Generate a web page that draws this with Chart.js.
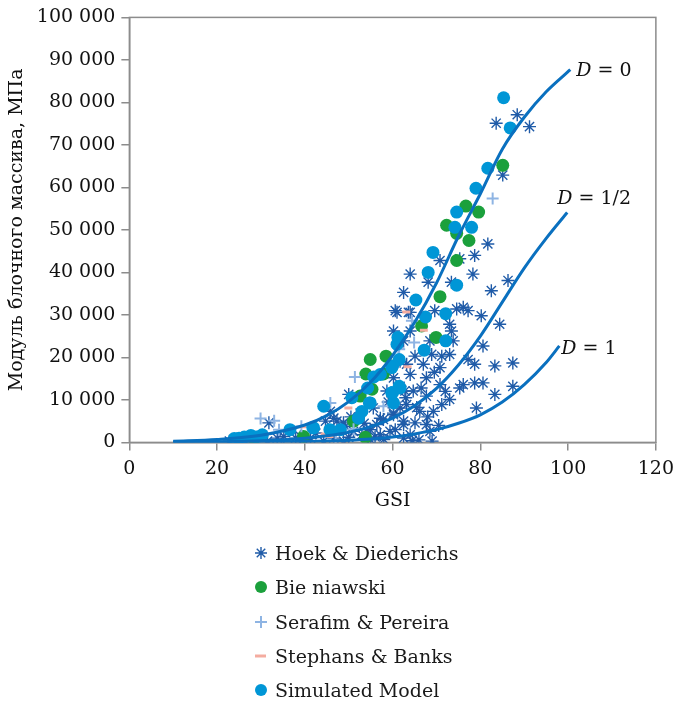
<!DOCTYPE html>
<html>
<head>
<meta charset="utf-8">
<script src="https://cdn.jsdelivr.net/npm/chart.js@4.4.1/dist/chart.umd.min.js"></script>
<style>
  body { margin: 0; background: #fff; }
  #wrap { position: relative; width: 681px; height: 704px; }
  #legend { position: absolute; left: 252px; top: 536px; font-family: "DejaVu Serif", serif; font-size: 19px; color: #1a1a1a; }
  #legend div { height: 34.3px; display: flex; align-items: center; }
  #legend canvas { margin-right: 5px; }
</style>
</head>
<body>
<div id="wrap">
  <canvas id="chart" width="681" height="704"></canvas>
  <div id="legend"></div>
</div>
<script>
// точки (GSI, модуль, МПа)
const hoekPoints = [
  [83.6, 75100], [88.4, 77100], [91.2, 74300], [85.1, 62900], [81.7, 46700],
  [78.7, 44000], [75.3, 43200], [70.8, 42800], [78.3, 39600], [64.0, 39600],
  [68.1, 37700], [73.4, 37700], [62.5, 35300], [82.5, 35700], [86.3, 38100],
  [60.6, 31000], [64.0, 30600], [69.6, 31000], [74.6, 31400], [76.1, 31800],
  [77.2, 31000], [80.2, 29800], [73.0, 27800], [84.4, 27800], [60.2, 26200],
  [64.0, 26200], [73.4, 26200], [62.5, 23900], [68.5, 23900], [73.8, 23900],
  [80.6, 22700], [65.1, 20300], [68.9, 20700], [71.2, 20300], [73.0, 20700],
  [77.2, 19500], [63.2, 18400], [67.0, 18400], [78.7, 18400], [83.3, 18000],
  [87.4, 18700], [70.8, 17600], [64.0, 16000], [67.7, 15200], [61.7, 13200],
  [70.8, 13600], [76.1, 13600], [78.7, 14000], [80.6, 14000], [75.3, 12800],
  [83.3, 11300], [87.4, 13200], [64.7, 12100], [67.7, 10900], [73.0, 10100],
  [71.2, 8900], [63.2, 8900], [79.1, 8100], [66.2, 7300], [69.3, 7300],
  [60.2, 6900], [57.2, 5700], [62.5, 5000], [65.1, 4600], [67.7, 4200],
  [60.6, 3000], [64.0, 1800], [68.5, 2600], [57.2, 1800], [54.9, 3000],
  [69.0, 300], [61.0, 30600], [63.6, 30600], [39.0, 1400], [41.3, 1000],
  [44.3, 300], [46.6, 1000], [48.8, 300], [47.3, 5000], [49.2, 3800],
  [51.1, 2600], [54.1, 3000], [56.4, 4200], [55.6, 8100], [57.9, 5400],
  [60.2, 6500], [61.7, 8100], [62.5, 4200], [52.6, 6900], [59.4, 2600],
  [62.5, 1000], [61.7, 19100], [60.2, 15200], [58.7, 12100], [62.8, 12100],
  [22.8, 300], [25.4, 100], [31.8, 4600], [31.5, 300], [33.7, 1000],
  [35.2, 1400], [37.9, 1000], [44.7, 5000], [46.6, 5700], [45.8, 7300],
  [48.8, 4600], [50.0, 11300], [66.0, 600], [58.0, 700], [56.0, 1300],
  [64.5, 400], [53.0, 1800], [50.5, 6000], [66.5, 12800], [69.5, 16500],
  [42.5, 2200], [50.0, 1200], [53.5, 4500], [55.0, 600], [59.0, 9500],
  [63.0, 10500], [65.5, 8200], [68.0, 6000], [70.5, 4000], [72.0, 12000]
];
const bieniawskiPoints = [
  [85.1, 65200], [76.7, 55600], [79.6, 54200], [72.3, 51100], [74.6, 49200],
  [77.4, 47500], [74.6, 42800], [70.8, 34300], [69.9, 24700], [66.6, 27400],
  [54.9, 19500], [58.5, 20300], [53.9, 16100], [57.9, 16100], [52.6, 10900],
  [53.8, 1200], [55.3, 12500], [51.1, 5000], [39.7, 1400], [28.4, 1000]
];
const serafimPoints = [
  [82.8, 57400], [64.4, 28600], [64.9, 23500], [61.5, 21900], [57.9, 8500],
  [29.9, 5600], [33.0, 5100], [34.1, 3000], [39.2, 3800], [45.8, 9300],
  [51.4, 15400], [51.1, 3100], [47.0, 300], [61.3, 22300]
];
const stephansPoints = [
  [38.5, 3700], [43.6, 2000], [44.7, 1400], [49.0, 8100],
  [62.2, 30700], [66.2, 26400], [62.5, 17800]
];
const simulatedPoints = [
  [85.3, 81100], [86.8, 74000], [81.7, 64500], [79.0, 59800], [74.6, 54200],
  [74.2, 50600], [78.0, 50600], [69.2, 44700], [68.1, 40000], [74.6, 37000],
  [65.3, 33500], [72.1, 30300], [67.5, 29500], [61.2, 24700], [72.1, 23900],
  [67.2, 21700], [61.5, 19500], [60.0, 18000], [55.7, 15400], [54.3, 12800],
  [61.5, 13200], [60.0, 11700], [60.2, 9300], [54.7, 9300], [53.0, 7300],
  [44.3, 8500], [42.0, 3400], [45.7, 3000], [48.1, 3000], [50.7, 10500],
  [54.9, 9300], [52.2, 5700], [57.2, 16000], [59.8, 17600], [61.7, 12800],
  [59.8, 11700], [61.0, 23100], [23.9, 900], [26.2, 1250], [27.7, 1650],
  [30.3, 1800], [36.6, 3000], [41.8, 3500], [25.0, 1000], [29.0, 1300]
];

// кривые Хука–Дидерихса
const curveGsi = [10, 20, 30, 40, 45, 50, 55, 60, 65, 70, 75, 80, 85, 90, 95, 100.5];
const curveD0 = [300, 700, 1700, 4100, 6300, 9600, 14200, 20500, 28200, 37500, 48500, 58500, 69000, 76500, 82500, 87700];
const curveHalfGsi = [10, 20, 30, 40, 45, 50, 55, 60, 65, 70, 75, 80, 85, 90, 95, 99.8];
const curveDHalf = [70, 160, 400, 1000, 1550, 2400, 3700, 5700, 8600, 12700, 18200, 25000, 33000, 41000, 48000, 54100];
const curveOneGsi = [10, 20, 30, 40, 45, 50, 55, 60, 65, 70, 75, 80, 85, 90, 95, 98];
const curveD1 = [15, 35, 90, 210, 330, 530, 820, 1280, 2000, 3000, 4500, 6500, 9500, 13600, 18800, 22700];

const xTicks = [0, 20, 40, 60, 80, 100, 120];

const toXY = arr => arr.map(p => ({ x: p[0], y: p[1] }));
const zip = (xs, ys) => xs.map((x, i) => ({ x, y: ys[i] }));

const LINE = '#0a70bf';
const serif = '"DejaVu Serif", serif';

function curve(label, data, text) {
  return {
    type: 'line', label, data, curveText: text,
    borderColor: LINE, borderWidth: 3, pointRadius: 0,
    cubicInterpolationMode: 'monotone', fill: false, order: 0
  };
}

const datasets = [
  { label: 'Hoek & Diederichs', data: toXY(hoekPoints), pointStyle: 'star', pointRadius: 6.5,
    borderColor: '#1f5ba8', backgroundColor: '#1f5ba8', borderWidth: 1.4, order: 5 },
  { label: 'Bie niawski', data: toXY(bieniawskiPoints), pointStyle: 'circle', pointRadius: 6.5,
    borderColor: '#1ba03c', backgroundColor: '#1ba03c', borderWidth: 0, order: 4 },
  { label: 'Serafim & Pereira', data: toXY(serafimPoints), pointStyle: 'cross', pointRadius: 6,
    borderColor: '#8eb4e3', backgroundColor: '#8eb4e3', borderWidth: 2, order: 3 },
  { label: 'Stephans & Banks', data: toXY(stephansPoints), pointStyle: 'dash', pointRadius: 8,
    borderColor: '#f4aca0', backgroundColor: '#f4aca0', borderWidth: 3, order: 2 },
  { label: 'Simulated Model', data: toXY(simulatedPoints), pointStyle: 'circle', pointRadius: 6.5,
    borderColor: '#0096d6', backgroundColor: '#0096d6', borderWidth: 0, order: 1 },
  curve('D0', zip(curveGsi, curveD0), ['0', 6, 1]),
  curve('D05', zip(curveHalfGsi, curveDHalf), ['1/2', -10, -13]),
  curve('D1', zip(curveOneGsi, curveD1), ['1', 2, 3])
];

// рамка графика
const frame = {
  id: 'frame',
  beforeDatasetsDraw(chart) {
    const { ctx, chartArea: a } = chart;
    ctx.save();
    ctx.strokeStyle = '#8c8c8c';
    ctx.lineWidth = 1.5;
    ctx.strokeRect(a.left, a.top, a.right - a.left, a.bottom - a.top);
    ctx.restore();
  }
};

// подписи кривых D = ...
const curveLabels = {
  id: 'curveLabels',
  afterDatasetsDraw(chart) {
    const ctx = chart.ctx;
    ctx.save();
    ctx.fillStyle = '#111';
    ctx.textBaseline = 'middle';
    chart.data.datasets.forEach((ds, i) => {
      if (!ds.curveText) return;
      const pts = chart.getDatasetMeta(i).data;
      const last = pts[pts.length - 1];
      let x = last.x + ds.curveText[1];
      const y = last.y + ds.curveText[2];
      ctx.font = 'italic 19px ' + serif;
      ctx.fillText('D', x, y);
      x += ctx.measureText('D').width;
      ctx.font = '19px ' + serif;
      ctx.fillText(' = ' + ds.curveText[0], x, y);
    });
    ctx.restore();
  }
};

const chart = new Chart(document.getElementById('chart'), {
  type: 'scatter',
  data: { datasets },
  options: {
    responsive: false,
    animation: false,
    layout: { padding: { left: 2, top: 14, right: 24, bottom: 188 } },
    plugins: { legend: { display: false }, tooltip: { enabled: false } },
    scales: {
      x: {
        min: 0, max: 120,
        afterBuildTicks: ax => { ax.ticks = xTicks.map(v => ({ value: v })); },
        grid: { drawOnChartArea: false, color: '#8c8c8c', tickLength: 8, lineWidth: 1.5 },
        border: { color: '#8c8c8c', width: 1.5 },
        ticks: { color: '#111', font: { family: serif, size: 19 }, padding: 7 },
        title: { display: true, text: 'GSI', color: '#111', font: { family: serif, size: 19 }, padding: { top: 2 } }
      },
      y: {
        min: 0, max: 100000,
        ticks: {
          stepSize: 10000, color: '#111', font: { family: serif, size: 19 }, padding: 6,
          callback: v => String(v).replace(/\B(?=(\d{3})+(?!\d))/g, ' ')
        },
        grid: { drawOnChartArea: false, color: '#8c8c8c', tickLength: 8, lineWidth: 1.5 },
        border: { color: '#8c8c8c', width: 1.5 },
        title: { display: true, text: 'Модуль блочного массива, МПа', color: '#111', font: { family: serif, size: 19 }, padding: { bottom: 2 } }
      }
    }
  },
  plugins: [frame, curveLabels]
});

// легенда
const legend = document.getElementById('legend');
chart.data.datasets.slice(0, 5).forEach(ds => {
  const row = document.createElement('div');
  const c = document.createElement('canvas');
  c.width = 18; c.height = 18;
  const cx = c.getContext('2d');
  cx.strokeStyle = ds.borderColor;
  cx.fillStyle = ds.backgroundColor;
  cx.lineWidth = ds.borderWidth;
  const r = ds.pointStyle === 'dash' ? 11 : 6;
  const px = ds.pointStyle === 'dash' ? 3 : 9;
  Chart.helpers.drawPoint(cx, { pointStyle: ds.pointStyle, radius: r, borderWidth: ds.borderWidth }, px, 9);
  const span = document.createElement('span');
  span.textContent = ds.label;
  row.appendChild(c);
  row.appendChild(span);
  legend.appendChild(row);
});
</script>
</body>
</html>
